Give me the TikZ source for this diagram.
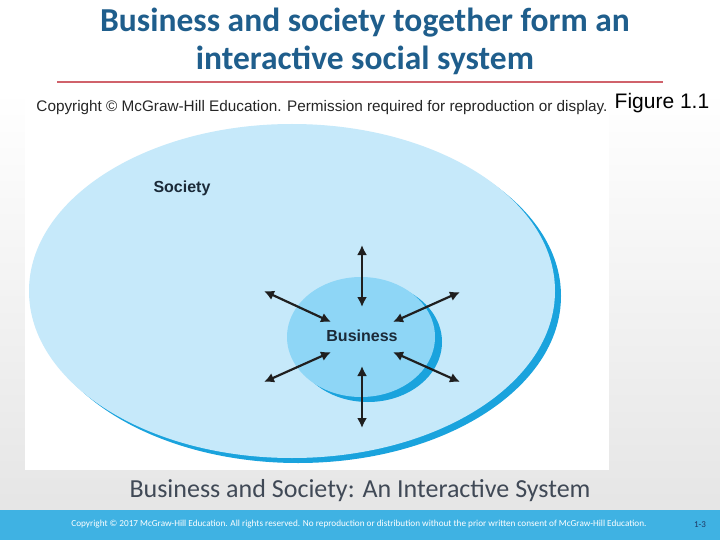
\documentclass[tikz,border=0pt]{standalone}
\usepackage{fontspec}
\usepackage{tikz}
\usetikzlibrary{arrows.meta}
\setmainfont{Carlito}
\newfontfamily\arialfont{Liberation Sans}
\definecolor{titleblue}{HTML}{1F5E8C}
\definecolor{rulered}{HTML}{D0626B}
\definecolor{socfill}{HTML}{C6E9FA}
\definecolor{bizfill}{HTML}{8ED6F6}
\definecolor{rimblue}{HTML}{1AA3DD}
\definecolor{labelink}{HTML}{1B2A38}
\definecolor{captiongray}{HTML}{404956}
\definecolor{barblue}{HTML}{3FB2E3}
\definecolor{pagenavy}{HTML}{1F3864}

\begin{document}
\begin{tikzpicture}[%
      x=1pt, y=-1pt,
      lbl/.style={font=\arialfont\bfseries\fontsize{16}{18}\selectfont, text=labelink},
      arr/.style={{Latex[length=10pt,width=10pt]}-{Latex[length=10pt,width=10pt]}, line width=2.2pt, color=black!88},
      ]
      \useasboundingbox (0,0) rectangle (720,540);
      % slide background
      \fill[white] (0,0) rectangle (720,540);
      \shade[top color=white, bottom color=gray!20] (0,90) rectangle (720,510);
      \fill[barblue] (0,510) rectangle (720,540);

      % title and rule
      \node[align=center, text=titleblue, font=\bfseries\fontsize{33.5}{38}\selectfont] (title) at (365,41)
        {Business and society together form an\\interactive social system};
      \coordinate (rl) at (57,82);
      \coordinate (rr) at (663,82);
      \draw[rulered, line width=2pt] (rl) -- (rr);

      % figure area
      \fill[white] (25,93) rectangle (609,470);
      \node[font=\arialfont\fontsize{15.3}{17}\selectfont, text=black!85] (copy) at (322,108)
        {Copyright \textcopyright\ McGraw-Hill Education. Permission required for reproduction or display.};
      \node[font=\arialfont\fontsize{21}{24}\selectfont, text=black] (fig) at (662,103) {Figure 1.1};

      % society and business
      \fill[rimblue] (298,296) ellipse (263 and 167);
      \fill[socfill] (292,291) ellipse (263 and 167);
      \fill[rimblue] (368,342) ellipse (74 and 60);
      \fill[bizfill] (361,337) ellipse (74 and 60);
      \node[lbl] (soc) at (182,188) {Society};
      \node[lbl] (biz) at (362,336) {Business};

      % interaction arrows
      \coordinate (no) at (362,245);  \coordinate (ni) at (362,307);
      \coordinate (so) at (362,428);  \coordinate (si) at (362,366);
      \coordinate (nwo) at (264,291); \coordinate (nwi) at (331,322);
      \coordinate (neo) at (460,292); \coordinate (nei) at (393,322);
      \coordinate (swo) at (264,382); \coordinate (swi) at (331,352);
      \coordinate (seo) at (460,382); \coordinate (sei) at (393,352);
      \draw[arr] (no) -- (ni);
      \draw[arr] (so) -- (si);
      \draw[arr] (nwo) -- (nwi);
      \draw[arr] (neo) -- (nei);
      \draw[arr] (swo) -- (swi);
      \draw[arr] (seo) -- (sei);

      % caption and footer
      \node[font=\fontsize{26}{30}\selectfont, text=captiongray] (cap) at (360,491)
        {Business and Society: An Interactive System};
      \node[font=\fontsize{9.2}{11}\selectfont, text=white] (foot) at (359,524)
        {Copyright \textcopyright\ 2017 McGraw-Hill Education. All rights reserved. No reproduction or distribution without the prior written consent of McGraw-Hill Education.};
      \node[font=\fontsize{9}{10}\selectfont, text=pagenavy] (page) at (700,525) {1-3};
\end{tikzpicture}
\end{document}
